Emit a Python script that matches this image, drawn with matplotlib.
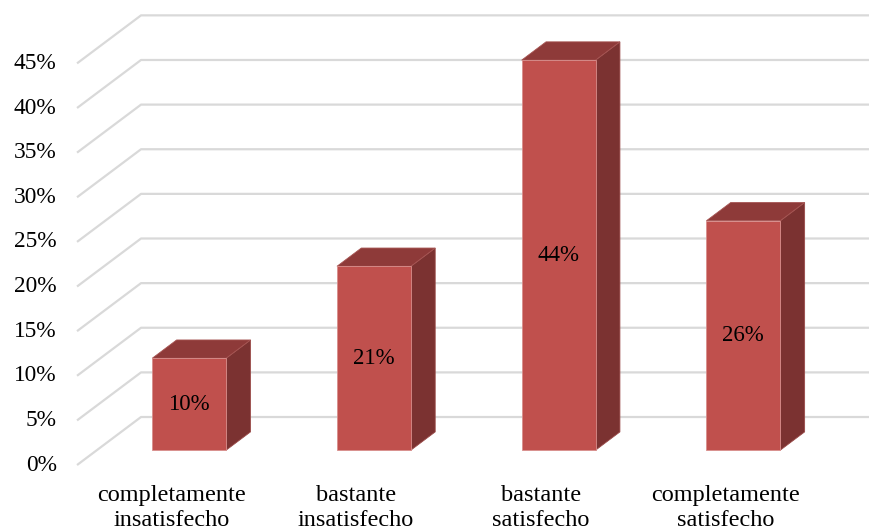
import numpy as np
import matplotlib
matplotlib.use("Agg")
import matplotlib.pyplot as plt
from matplotlib.patches import Polygon

# Data
categories = ["completamente\ninsatisfecho", "bastante\ninsatisfecho",
              "bastante\nsatisfecho", "completamente\nsatisfecho"]
values = [0.103, 0.206, 0.437, 0.257]
yticks = [0.00, 0.05, 0.10, 0.15, 0.20, 0.25, 0.30, 0.35, 0.40, 0.45]

plt.rcParams['font.family'] = ['Liberation Serif', 'DejaVu Serif']

front_col = "#C0504D"
top_col = "#8E3A39"
side_col = "#7B3231"
grid_col = "#D9D9D9"

# 3D look: depth offset of the whole floor (category units, value units)
depth_dx = 0.3465
depth_dy = 0.0538
bar_w = 0.40
f0, f1 = 0.31, 0.69   # front/back of the bars as fraction of floor depth

fig = plt.figure(figsize=(8.7, 5.31), dpi=100)
ax = fig.add_axes([0, 0, 1, 1])
ax.set_xlim(-0.917, 3.793)
ax.set_ylim(-0.0739, 0.521)
ax.axis("off")

x_left = -0.5
x_right = ax.get_xlim()[1] + 0.1

# gridlines: diagonal on the side wall, horizontal on the back wall
for t in yticks:
    ax.plot([x_left, x_left + depth_dx, x_right],
            [t, t + depth_dy, t + depth_dy],
            color=grid_col, lw=1.6, solid_capstyle="butt", zorder=1)
    ax.text(x_left - 0.11, t, f"{t*100:.0f}%", ha="right", va="center",
            fontsize=16.8, color="#000000")

# bars
for i, v in enumerate(values):
    ox0, oy0 = f0 * depth_dx, f0 * depth_dy
    ox1, oy1 = f1 * depth_dx, f1 * depth_dy
    xl = i - bar_w / 2 + ox0
    xr = i + bar_w / 2 + ox0
    yb = oy0
    yt = v + oy0
    ddx, ddy = ox1 - ox0, oy1 - oy0
    side = Polygon([(xr, yb), (xr + ddx, yb + ddy), (xr + ddx, yt + ddy), (xr, yt)],
                   closed=True, facecolor=side_col, edgecolor="#9A4A48", lw=0.6, zorder=3)
    top = Polygon([(xl, yt), (xl + ddx, yt + ddy), (xr + ddx, yt + ddy), (xr, yt)],
                  closed=True, facecolor=top_col, edgecolor="#A65553", lw=0.6, zorder=3)
    front = Polygon([(xl, yb), (xr, yb), (xr, yt), (xl, yt)],
                    closed=True, facecolor=front_col, edgecolor="#D88E8C", lw=0.6, zorder=4)
    for p in (side, top, front):
        ax.add_patch(p)
    ax.text((xl + xr) / 2, yb + v / 2, f"{v*100:.0f}%", ha="center", va="center",
            fontsize=16.5, color="#000000", zorder=5)

# category labels
for i, c in enumerate(categories):
    ax.text(i + 0.01, -0.022, c, ha="center", va="top", fontsize=17.5,
            linespacing=1.3, color="#000000")

fig.savefig("out.png", dpi=100)
